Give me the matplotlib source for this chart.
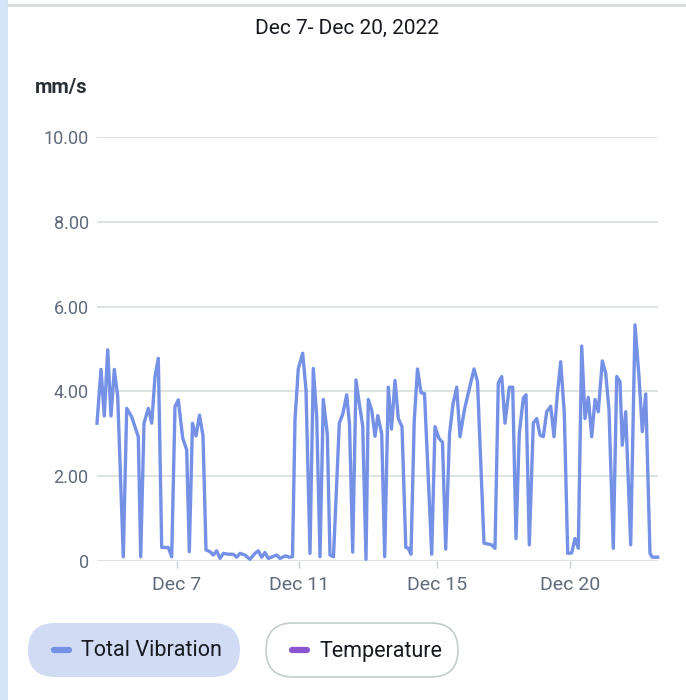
import matplotlib
matplotlib.use('Agg')
import matplotlib.pyplot as plt
from matplotlib.patches import FancyBboxPatch, Rectangle

plt.rcParams['font.family'] = ['Roboto', 'DejaVu Sans']

# chart data
title = 'Dec 7- Dec 20, 2022'
unit = 'mm/s'
# sample position along the time axis (axis units, 0 = first reading)
t = [0.0, 0.4, 0.73, 1.07, 1.4, 1.73, 2.07, 2.63, 2.97, 3.47, 4.13, 4.37, 4.7, 5.13,
     5.47, 5.8, 6.13, 6.47, 7.13, 7.47, 7.8, 8.13, 8.57, 8.97, 9.23, 9.55, 9.9, 10.25,
     10.6, 10.9, 11.3, 11.63, 11.97, 12.3, 12.63, 13.13, 13.63, 13.97, 14.3, 14.8, 15.3,
     15.8, 16.13, 16.47, 16.8, 17.13, 17.53, 17.97, 18.3, 18.63, 18.9, 19.2, 19.55, 19.8,
     20.13, 20.57, 20.9, 21.3, 21.63, 21.97, 22.3, 22.63, 23.03, 23.3, 23.65, 24.23, 24.57,
     24.97, 25.25, 25.57, 25.9, 26.2, 26.57, 26.9, 27.13, 27.47, 27.8, 28.08, 28.47, 28.77,
     29.13, 29.45, 29.8, 30.13, 30.5, 30.88, 31.13, 31.4, 31.72, 32.05, 32.4, 32.75, 33.47,
     33.8, 34.2, 34.55, 34.87, 35.25, 35.6, 35.97, 36.3, 36.75, 37.18, 37.7, 38.05, 38.7,
     39.13, 39.47, 39.8, 40.13, 40.47, 40.8, 41.23, 41.57, 41.9, 42.23, 42.63, 42.9, 43.23,
     43.63, 43.97, 44.3, 44.63, 44.97, 45.37, 45.7, 46.03, 46.37, 46.73, 47.07, 47.47, 47.8,
     48.13, 48.47, 48.8, 49.13, 49.47, 49.8, 50.13, 50.53, 50.87, 51.2, 51.63, 51.97, 52.3,
     52.53, 52.87, 53.37, 53.8, 54.2, 54.53, 54.87, 55.3, 55.53, 56.07]
vibration = [3.25, 4.52, 3.42, 4.98, 3.42, 4.52, 3.88, 0.1, 3.6, 3.4, 2.93, 0.1, 3.25, 3.6,
             3.25, 4.35, 4.78, 0.32, 0.32, 0.1, 3.64, 3.8, 2.9, 2.62, 0.22, 3.25, 2.95, 3.44,
             2.95, 0.26, 0.22, 0.14, 0.24, 0.06, 0.18, 0.16, 0.16, 0.09, 0.18, 0.14, 0.04,
             0.18, 0.24, 0.09, 0.2, 0.06, 0.1, 0.14, 0.06, 0.1, 0.12, 0.09, 0.1, 3.33,
             4.54, 4.9, 4.03, 0.18, 4.54, 3.4, 0.1, 3.81, 2.99, 0.14, 0.1, 3.25, 3.46,
             3.92, 3.23, 0.21, 4.27, 3.76, 3.19, 0.04, 3.81, 3.56, 2.94, 3.43, 3.0, 0.1,
             4.1, 3.11, 4.26, 3.36, 3.17, 0.32, 0.3, 0.16, 3.29, 4.53, 3.97, 3.95, 0.16,
             3.17, 2.89, 2.8, 0.28, 2.99, 3.7, 4.1, 2.93, 3.58, 4.01, 4.53, 4.23, 0.42,
             0.4, 0.38, 0.3, 4.2, 4.35, 3.25, 4.1, 4.1, 0.53, 3.01, 3.84, 3.92, 0.38,
             3.25, 3.36, 2.97, 2.93, 3.52, 3.65, 2.93, 3.92, 4.7, 3.48, 0.18, 0.19, 0.53,
             0.3, 5.07, 3.36, 3.86, 2.93, 3.81, 3.52, 4.72, 4.43, 3.56, 0.3, 4.35, 4.23,
             2.73, 3.52, 0.38, 5.57, 4.35, 3.05, 3.94, 0.18, 0.09, 0.09]
x_tick_pos = [7.97, 20.2, 34.03, 47.3]
x_tick_labels = ['Dec 7', 'Dec 11', 'Dec 15', 'Dec 20']
y_ticks = [0, 2, 4, 6, 8, 10]
y_tick_labels = ['0', '2.00', '4.00', '6.00', '8.00', '10.00']
series_names = ['Total Vibration', 'Temperature']
series_colors = ['#7491e6', '#8a55d1']

W, H = 686, 700
fig = plt.figure(figsize=(W / 100, H / 100), dpi=100)
fig.patch.set_facecolor('white')

# background decorations + legend pills in pixel coords
ov = fig.add_axes([0, 0, 1, 1], zorder=0)
ov.set_xlim(0, W)
ov.set_ylim(H, 0)
ov.axis('off')
ov.add_patch(Rectangle((0, 0), 8, H, color='#d4e5f7', lw=0))
ov.plot([8, W], [5, 5], color='#d5dbdc', lw=2)

ax = fig.add_axes([97 / W, 1 - 561 / H, (658 - 97) / W, (561 - 137) / H], zorder=1)
ax.patch.set_alpha(0)
ax.plot(t, vibration, color=series_colors[0], lw=2.4, clip_on=False,
        solid_joinstyle='round', zorder=3)
ax.set_xlim(0, 56.1)
ax.set_ylim(0, 10)
ax.set_yticks(y_ticks)
ax.set_yticklabels(y_tick_labels)
ax.set_xticks(x_tick_pos)
ax.set_xticklabels(x_tick_labels)
for s in ax.spines.values():
    s.set_visible(False)
ax.grid(axis='y', color='#dde2e2', lw=1.4)
ax.set_axisbelow(True)
ax.tick_params(axis='y', length=0, pad=6, labelcolor='#5f6b7a', labelsize=13)
ax.tick_params(axis='x', length=5, width=1, color='#c8cfd2', pad=6,
               labelcolor='#5f6b7a', labelsize=14)

fig.text(347 / W, 1 - 28 / H, title, ha='center', va='center', fontsize=15,
         color='#16191f')
fig.text(35 / W, 1 - 87 / H, unit, ha='left', va='center', fontsize=14.5,
         fontweight='bold', color='#2a2f35')

# legend pills
pills = [(28, 212, '#d1dcf4', 'none'), (266, 192, 'white', '#c4cccc')]
for (x0, w, fc, ec), name, col in zip(pills, series_names, series_colors):
    ov.add_patch(FancyBboxPatch((x0, 623), w, 54,
                                boxstyle='round,pad=0,rounding_size=27',
                                facecolor=fc, edgecolor=ec, lw=1.2))
    ov.plot([x0 + 26, x0 + 41], [650, 650], color=col, lw=4.5,
            solid_capstyle='round')
    ov.text(x0 + 53, 651, name, ha='left', va='center', fontsize=15.5,
            color='#16191f')

fig.savefig('out.png', dpi=100)
